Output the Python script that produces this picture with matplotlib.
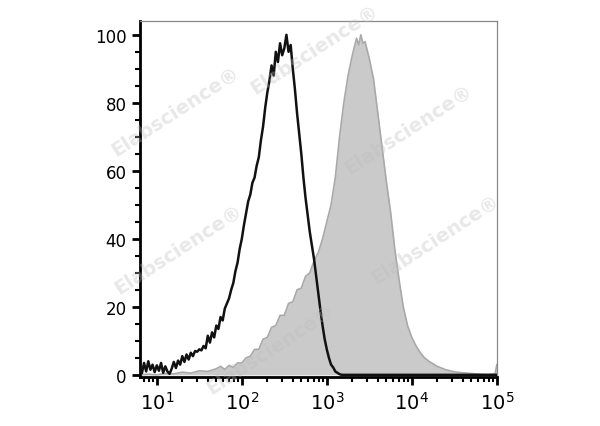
import numpy as np
import matplotlib
matplotlib.use("Agg")
import matplotlib.pyplot as plt
from matplotlib.ticker import FixedLocator, LogLocator, NullFormatter

# === Data (x in log10 units, y in % of max)
ctrl_log = [0.800, 0.825, 0.850, 0.875, 0.900, 0.925, 0.950, 0.975, 1.000, 1.025,
            1.050, 1.075, 1.100, 1.125, 1.150, 1.175, 1.200, 1.225, 1.250, 1.275,
            1.300, 1.325, 1.350, 1.375, 1.400, 1.425, 1.450, 1.475, 1.500, 1.525,
            1.550, 1.575, 1.600, 1.625, 1.650, 1.675, 1.700, 1.725, 1.750, 1.775,
            1.800, 1.825, 1.850, 1.875, 1.900, 1.925, 1.950, 1.975, 2.000, 2.025,
            2.050, 2.075, 2.100, 2.125, 2.150, 2.175, 2.200, 2.225, 2.250, 2.275,
            2.300, 2.325, 2.350, 2.375, 2.400, 2.425, 2.450, 2.475, 2.500, 2.525,
            2.550, 2.575, 2.600, 2.625, 2.650, 2.675, 2.700, 2.725, 2.750, 2.775,
            2.800, 2.825, 2.850, 2.875, 2.900, 2.925, 2.950, 2.975, 3.000, 3.025,
            3.050, 3.075, 3.100, 3.125, 3.150, 3.175, 3.300, 5.000]
ctrl_cnt = [2.0, 0.5, 3.5, 1.0, 4.0, 1.5, 3.0, 0.8, 2.8, 1.2,
            3.5, 0.6, 2.5, 1.0, 0.3, 1.8, 3.8, 2.0, 4.2, 3.0,
            5.5, 3.8, 6.0, 4.5, 6.5, 5.5, 7.0, 6.8, 7.5, 7.2,
            8.5, 7.8, 11.5, 9.5, 12.5, 11.0, 14.5, 13.5, 17.0, 16.0,
            19.5, 21.0, 22.5, 25.0, 27.0, 30.5, 33.0, 37.0, 40.0, 44.0,
            47.5, 51.0, 53.0, 56.5, 58.0, 61.5, 64.0, 69.0, 73.0, 78.5,
            83.0, 86.5, 91.0, 88.0, 95.0, 92.0, 97.5, 94.0, 96.0, 100.0,
            95.0, 97.0, 90.0, 84.0, 77.0, 71.0, 65.0, 58.0, 52.0, 47.0,
            42.0, 38.0, 34.0, 29.0, 24.0, 19.0, 14.5, 10.5, 7.5, 5.0,
            3.0, 2.2, 1.0, 0.6, 0.2, 0.0, 0.0, 0.0]

stain_log = [0.80, 0.90, 1.00, 1.10, 1.20, 1.30, 1.40, 1.50, 1.60, 1.70,
             1.75, 1.80, 1.85, 1.90, 1.95, 2.00, 2.05, 2.10, 2.15, 2.20,
             2.25, 2.30, 2.35, 2.40, 2.45, 2.50, 2.55, 2.60, 2.65, 2.70,
             2.75, 2.80, 2.85, 2.90, 2.95, 3.00, 3.05, 3.10, 3.15, 3.20,
             3.25, 3.30, 3.35, 3.375, 3.40, 3.425, 3.45, 3.50, 3.55, 3.60,
             3.65, 3.70, 3.75, 3.80, 3.85, 3.90, 3.95, 4.00, 4.05, 4.10,
             4.15, 4.20, 4.30, 4.40, 4.50, 4.60, 4.70, 4.80, 4.90, 4.98, 5.00]
stain_cnt = [0.0, 0.2, 0.0, 0.4, 0.3, 0.8, 0.5, 1.2, 1.0, 1.8,
             2.5, 1.6, 2.8, 2.2, 3.5, 3.5, 5.0, 5.5, 7.5, 7.5,
             10.5, 11.0, 14.0, 14.5, 17.5, 17.5, 21.0, 21.5, 25.0, 25.5,
             29.0, 30.0, 33.5, 36.0, 40.0, 45.0, 50.0, 58.0, 70.0, 80.0,
             88.0, 94.0, 99.0, 97.0, 100.0, 97.5, 98.0, 93.0, 87.0, 77.0,
             67.0, 57.0, 48.0, 37.0, 28.0, 20.0, 14.5, 11.0, 8.5, 6.5,
             5.0, 4.0, 2.5, 1.5, 0.9, 0.6, 0.4, 0.2, 0.1, 0.3, 3.0]

y_ticks = [0, 20, 40, 60, 80, 100]
x_ticks = [1e1, 1e2, 1e3, 1e4, 1e5]
x_labels = [r"$10^1$", r"$10^2$", r"$10^3$", r"$10^4$", r"$10^5$"]

# === Plotting
fig = plt.figure(figsize=(6, 4.27), dpi=100)
ax = fig.add_axes([0.233, 0.115, 0.595, 0.833])

sx = 10 ** np.array(stain_log)
cx = 10 ** np.array(ctrl_log)
ax.fill_between(sx, 0, stain_cnt, color="#cacaca", lw=0, zorder=1)
ax.plot(sx, stain_cnt, color="#a9a9a9", lw=1.2, zorder=2)
ax.plot(cx, ctrl_cnt, color="#111111", lw=1.8, zorder=3)

ax.set_xscale("log")
ax.set_xlim(10 ** 0.8, 1e5)
ax.set_ylim(-0.6, 104)

ax.xaxis.set_major_locator(FixedLocator(x_ticks))
ax.set_xticklabels(x_labels)
ax.xaxis.set_minor_locator(LogLocator(base=10, subs=np.arange(2, 10)))
ax.xaxis.set_minor_formatter(NullFormatter())
ax.set_yticks(y_ticks)
ax.yaxis.set_minor_locator(FixedLocator(np.arange(0, 101, 5)))

ax.tick_params(axis="both", which="major", length=6, width=2, color="black",
               labelsize=12, direction="out")
ax.tick_params(axis="both", which="minor", length=3.5, width=1.5, color="black",
               direction="out")
ax.tick_params(axis="x", which="major", labelsize=14, pad=4)

for side in ["left", "bottom"]:
    ax.spines[side].set_linewidth(2)
    ax.spines[side].set_color("black")
for side in ["top", "right"]:
    ax.spines[side].set_linewidth(0.9)
    ax.spines[side].set_color("#888888")

# watermark
marks = [(175, 112), (314, 50), (408, 130), (435, 240), (178, 250), (270, 350)]
for (px, py) in marks:
    fig.text(px / 600, 1 - py / 427, "Elabscience\u00ae", fontsize=14,
             fontweight="bold", color="#bdbdbd", alpha=0.35, rotation=33,
             ha="center", va="center", zorder=10)

fig.savefig("out.png", dpi=100)
